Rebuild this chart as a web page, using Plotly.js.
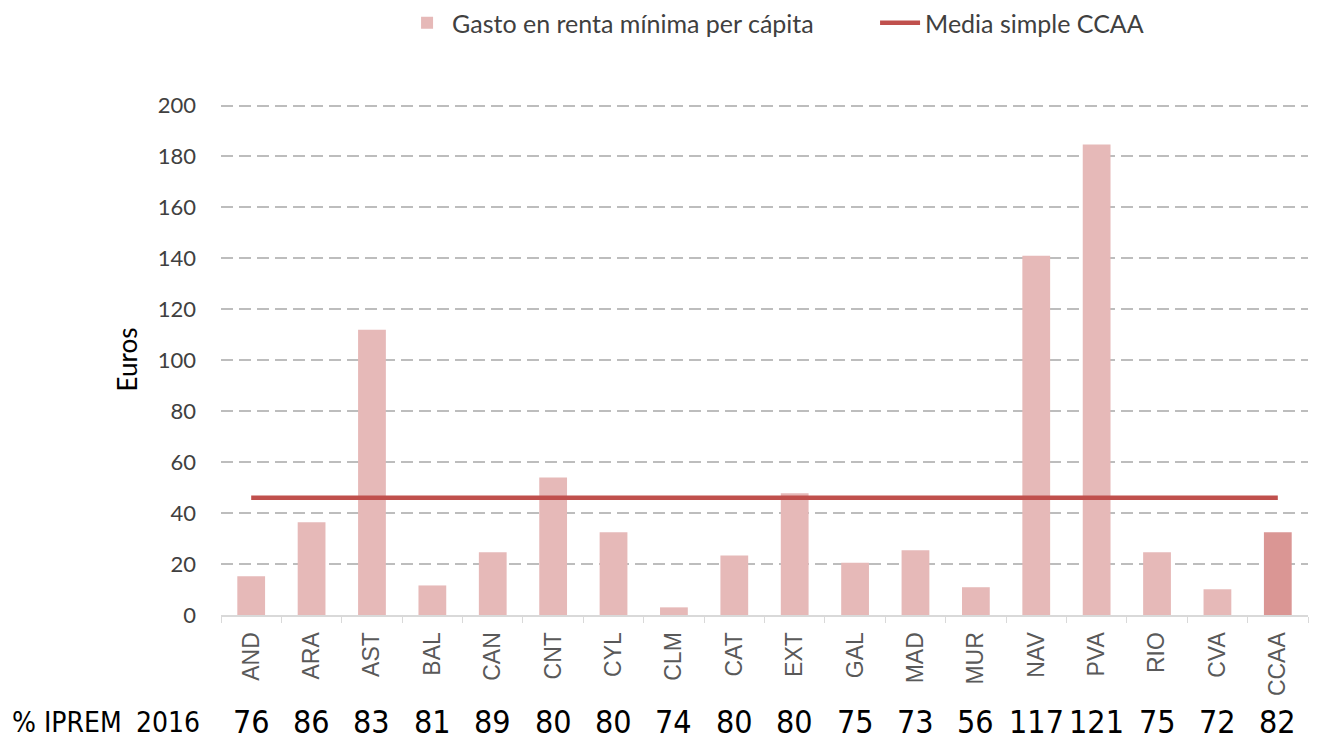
<!DOCTYPE html>
<html>
<head>
<meta charset="utf-8">
<script src="https://cdn.plot.ly/plotly-3.0.1.min.js"></script>
<style>html,body{margin:0;padding:0;background:#fff;}</style>
</head>
<body>
<div id="chart" style="width:1330px;height:741px;"></div>
<script>
const categories = ['AND','ARA','AST','BAL','CAN','CNT','CYL','CLM','CAT','EXT','GAL','MAD','MUR','NAV','PVA','RIO','CVA','CCAA'];
const gastoPerCapita = [15.2, 36.4, 112, 11.6, 24.6, 54, 32.5, 3, 23.4, 47.8, 20.5, 25.4, 10.9, 141, 184.7, 24.6, 10.1, 32.5];
const mediaSimpleCCAA = 46;
const iprem2016 = [76, 86, 83, 81, 89, 80, 80, 74, 80, 80, 75, 73, 56, 117, 121, 75, 72, 82];
const ipremLabel = '% IPREM';
const ipremYear = '2016';

const pink = '#e6b9b8';
const pinkDark = '#da9694';
const red = '#c0504d';

const barTrace = {
  type: 'bar',
  name: 'Gasto en renta mínima per cápita',
  x: categories,
  y: gastoPerCapita,
  marker: { color: categories.map(c => c === 'CCAA' ? pinkDark : pink) },
  hoverinfo: 'x+y'
};
const lineTrace = {
  type: 'scatter',
  mode: 'lines',
  name: 'Media simple CCAA',
  x: [categories[0], categories[categories.length - 1]],
  y: [mediaSimpleCCAA, mediaSimpleCCAA],
  line: { color: red, width: 4.5 }
};

const narrow = 'DejaVu Sans Condensed, Liberation Sans Narrow, Liberation Sans, sans-serif';
const numFont = { family: narrow, size: 32, color: '#000' };
const annotations = categories.map((c, i) => ({
  x: c, xref: 'x', y: -0.21, yref: 'paper',
  text: String(iprem2016[i]), showarrow: false,
  xanchor: 'center', yanchor: 'middle', font: numFont
}));
annotations.push({
  x: 0, xref: 'paper', xshift: -211, y: -0.21, yref: 'paper',
  text: ipremLabel, showarrow: false, xanchor: 'left', yanchor: 'middle',
  font: { family: narrow, size: 28, color: '#000' }
});
annotations.push({
  x: 0, xref: 'paper', xshift: -87, y: -0.21, yref: 'paper',
  text: ipremYear, showarrow: false, xanchor: 'left', yanchor: 'middle',
  font: { family: narrow, size: 28, color: '#000' }
});

const layout = {
  width: 1330, height: 741,
  margin: { l: 221, r: 22, t: 104, b: 126, autoexpand: false },
  paper_bgcolor: '#fff', plot_bgcolor: '#fff',
  bargap: 0.54,
  showlegend: true,
  legend: {
    orientation: 'h', xref: 'container', x: 0.3023, xanchor: 'left',
    yref: 'container', y: 1, yanchor: 'top',
    font: { family: 'Lato, sans-serif', size: 25, color: '#404040' },
    itemwidth: 40, tracegroupgap: 0, entrywidth: 418
  },
  xaxis: {
    type: 'category',
    showline: true, linecolor: '#d9d9d9', linewidth: 2,
    ticks: 'outside', tickson: 'boundaries', ticklen: 6, tickcolor: '#d9d9d9', tickwidth: 1,
    tickangle: -90,
    tickfont: { family: 'Liberation Sans, Arial, sans-serif', size: 23, color: '#595959' },
    ticklabelstandoff: 6,
    showgrid: false, zeroline: false, fixedrange: true
  },
  yaxis: {
    range: [0, 200.6], dtick: 20, tick0: 0,
    showgrid: true, gridcolor: '#bdbdbd', gridwidth: 2, griddash: '12px,6px',
    zeroline: false, showline: false, ticks: '',
    tickfont: { family: 'Lato, sans-serif', size: 22, color: '#404040' },
    ticklabelstandoff: 24,
    title: { text: 'Euros', font: { family: 'Lato, sans-serif', size: 26, color: '#000' }, standoff: 12 },
    fixedrange: true
  },
  annotations: annotations
};

Plotly.newPlot('chart', [barTrace, lineTrace], layout, { displayModeBar: false, staticPlot: true });
</script>
</body>
</html>
